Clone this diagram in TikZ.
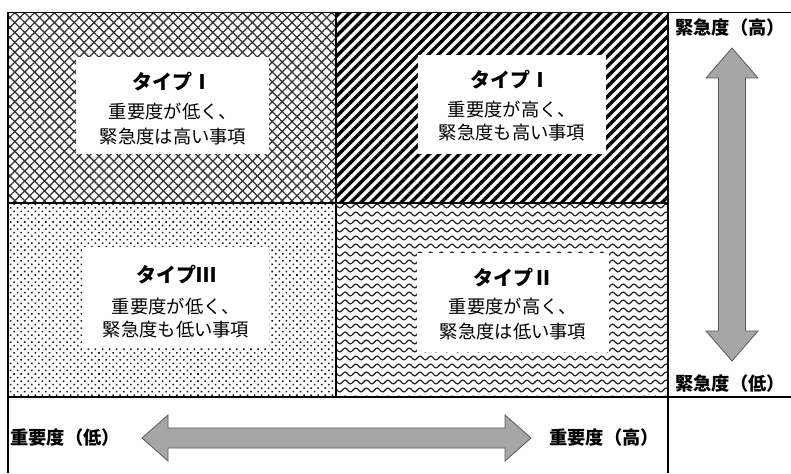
\documentclass[tikz,border=0pt]{standalone}
\usepackage{fontspec}
\newfontfamily\jp{Noto Sans CJK JP}
\usetikzlibrary{patterns.meta}
\definecolor{arrowgray}{HTML}{A6A6A6}
\definecolor{arrowedge}{HTML}{595959}
\tikzdeclarepattern{
  name=wavy, type=uncolored,
  bottom left={(-0.5pt,-0.5pt)}, top right={(11.2pt,8.5pt)},
  tile size={(10.7pt,8pt)},
  code={\draw[line width=1.2pt] (-0.5pt,3pt) -- (0pt,3pt) sin (2.675pt,4.9pt) cos (5.35pt,3pt) sin (8.025pt,1.1pt) cos (10.7pt,3pt) -- (11.2pt,3pt);}
}
\begin{document}
\begin{tikzpicture}[x=1pt,y=-1pt,
  frame/.style={line width=1.6pt, black},
  wbox/.style={fill=white, draw=none},
  ttl/.style={font=\jp\bfseries\fontsize{20}{20}\selectfont, inner sep=0pt},
  body/.style={font=\jp\fontsize{18.3}{18.3}\selectfont, inner sep=0pt},
  axislab/.style={font=\jp\bfseries\fontsize{18.3}{18.3}\selectfont, inner sep=0pt},
  bigarrow/.style={fill=arrowgray, draw=arrowedge, line width=0.8pt, line join=miter}]
\useasboundingbox (0,0) rectangle (791,473);
\fill[white] (0,0) rectangle (791,473);
% quadrant patterns
\fill[pattern={Lines[angle=45,distance=7pt,line width=1.3pt]}, pattern color=black!80] (8,12.5) rectangle (336,203);
\fill[pattern={Lines[angle=-45,distance=7pt,line width=1.3pt]}, pattern color=black!80] (8,12.5) rectangle (336,203);
\fill[pattern={Lines[angle=45,distance=7.1pt,line width=3.4pt]}, pattern color=black] (336,12.5) rectangle (668,203);
\fill[pattern={Dots[distance=5pt,radius=1.1pt,angle=45]}, pattern color=black!90] (8,203) rectangle (336,397);
\fill[pattern=wavy, pattern color=black!85] (336,203) rectangle (668,397);
% white boxes
\fill[wbox] (76,57) rectangle (269,154);
\fill[wbox] (418,55) rectangle (606,154);
\fill[wbox] (83,247) rectangle (269,347);
\fill[wbox] (417,253) rectangle (609,352);
% texts
\node[ttl]  (tlt) at (172,82)  {タイプⅠ};
\node[body] (tl2) at (173,112) {重要度が低く、};
\node[body] (tl3) at (173,137) {緊急度は高い事項};
\node[ttl]  (trt) at (510,80)  {タイプⅠ};
\node[body] (tr2) at (512,110) {重要度が高く、};
\node[body] (tr3) at (512,133) {緊急度も高い事項};
\node[ttl]  (blt) at (176,275) {タイプⅢ};
\node[body] (bl2) at (176,307) {重要度が低く、};
\node[body] (bl3) at (176,330) {緊急度も低い事項};
\node[ttl]  (brt) at (513,278) {タイプⅡ};
\node[body] (br2) at (513,307) {重要度が高く、};
\node[body] (br3) at (513,332) {緊急度は低い事項};
% frame
\draw[frame] (8,473) -- (8,12.5) -- (791,12.5);
\draw[frame] (8,397) -- (791,397);
\draw[frame] (8,203) -- (668,203);
\draw[frame] (336,12.5) -- (336,397);
\draw[frame] (668,12.5) -- (668,473);
% axis labels
\node[axislab] (uh) at (730,28)  {緊急度（高）};
\node[axislab] (ul) at (730,384) {緊急度（低）};
\node[axislab] (il) at (65,438)  {重要度（低）};
\node[axislab] (ih) at (604,438) {重要度（高）};
% arrows
\draw[bigarrow] (732,48) -- (758,78) -- (745.5,78) -- (745.5,331) -- (758,331) -- (732,361) -- (706,331) -- (718.5,331) -- (718.5,78) -- (706,78) -- cycle;
\draw[bigarrow] (142,438) -- (168,415) -- (168,428) -- (505,428) -- (505,415) -- (531,438) -- (505,461) -- (505,448) -- (168,448) -- (168,461) -- cycle;
\end{tikzpicture}
\end{document}
